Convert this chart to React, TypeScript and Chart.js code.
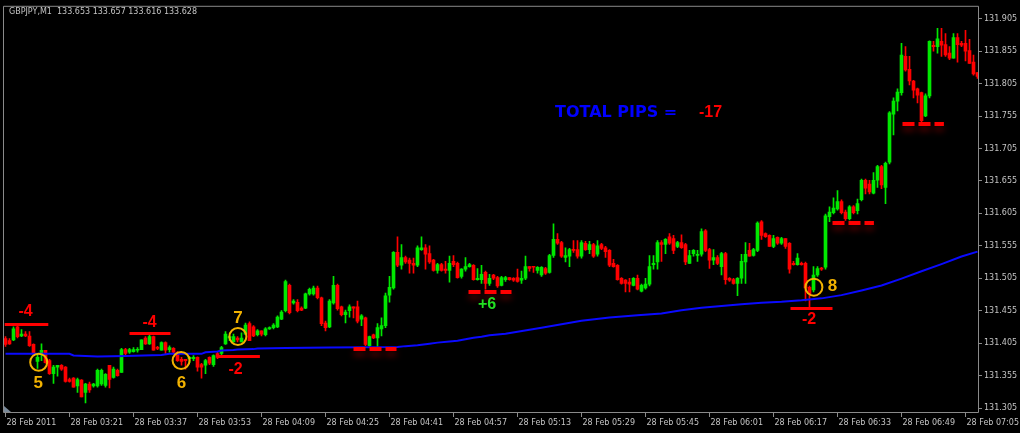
import React, { useEffect, useRef } from 'react';
import { Chart, registerables } from 'chart.js';

Chart.register(...registerables);

// ---------- data ----------
const symbolCaption = 'GBPJPY,M1  133.653 133.657 133.616 133.628';

const timeLabels = [
  '28 Feb 2011', '28 Feb 03:21', '28 Feb 03:37', '28 Feb 03:53', '28 Feb 04:09', '28 Feb 04:25',
  '28 Feb 04:41', '28 Feb 04:57', '28 Feb 05:13', '28 Feb 05:29', '28 Feb 05:45', '28 Feb 06:01',
  '28 Feb 06:17', '28 Feb 06:33', '28 Feb 06:49', '28 Feb 07:05',
];
const timeLabelBars = [0, 16, 32, 48, 64, 80, 96, 112, 128, 144, 160, 176, 192, 208, 224, 240];

const priceTicks = [
  131.305, 131.355, 131.405, 131.455, 131.505, 131.555, 131.605,
  131.655, 131.705, 131.755, 131.805, 131.855, 131.905,
];

const opens = [
  131.412, 131.409, 131.410, 131.430, 131.416, 131.419, 131.416, 131.403, 131.377, 131.389,
  131.394, 131.378, 131.358, 131.368, 131.371, 131.368, 131.349, 131.351, 131.339, 131.348,
  131.329, 131.342, 131.339, 131.339, 131.342, 131.340, 131.371, 131.352, 131.363, 131.360,
  131.395, 131.391, 131.392, 131.394, 131.395, 131.413, 131.404, 131.415, 131.398, 131.394,
  131.406, 131.395, 131.397, 131.391, 131.380, 131.380, 131.381, 131.381, 131.383, 131.372,
  131.371, 131.383, 131.372, 131.389, 131.389, 131.404, 131.413, 131.407, 131.413, 131.407,
  131.419, 131.435, 131.430, 131.418, 131.424, 131.418, 131.427, 131.429, 131.430, 131.442,
  131.455, 131.494, 131.467, 131.468, 131.459, 131.459, 131.481, 131.481, 131.490, 131.475,
  131.436, 131.430, 131.467, 131.494, 131.461, 131.449, 131.455, 131.461, 131.461, 131.442,
  131.444, 131.401, 131.418, 131.413, 131.427, 131.432, 131.479, 131.490, 131.545, 131.525,
  131.537, 131.533, 131.528, 131.525, 131.549, 131.552, 131.543, 131.533, 131.517, 131.526,
  131.519, 131.517, 131.531, 131.528, 131.508, 131.519, 131.523, 131.525, 131.503, 131.503,
  131.514, 131.497, 131.510, 131.506, 131.494, 131.503, 131.506, 131.505, 131.506, 131.502,
  131.505, 131.523, 131.523, 131.517, 131.510, 131.520, 131.514, 131.540, 131.565, 131.560,
  131.537, 131.539, 131.549, 131.549, 131.539, 131.559, 131.549, 131.557, 131.542, 131.557,
  131.552, 131.548, 131.528, 131.525, 131.505, 131.502, 131.499, 131.494, 131.505, 131.485,
  131.490, 131.496, 131.526, 131.530, 131.560, 131.557, 131.569, 131.566, 131.554, 131.560,
  131.557, 131.528, 131.543, 131.540, 131.542, 131.578, 131.549, 131.533, 131.537, 131.523,
  131.543, 131.505, 131.503, 131.497, 131.505, 131.530, 131.548, 131.540, 131.548, 131.592,
  131.574, 131.571, 131.554, 131.568, 131.559, 131.566, 131.559, 131.528, 131.526, 131.528,
  131.528, 131.491, 131.487, 131.510, 131.520, 131.522, 131.600, 131.606, 131.612, 131.623,
  131.607, 131.597, 131.615, 131.609, 131.626, 131.656, 131.650, 131.636, 131.656, 131.677,
  131.645, 131.684, 131.758, 131.778, 131.791, 131.847, 131.827, 131.809, 131.797, 131.791,
  131.755, 131.786, 131.864, 131.862, 131.870, 131.865, 131.852, 131.844, 131.876, 131.867,
  131.867, 131.856, 131.838, 131.822,
];
const highs = [
  131.415, 131.412, 131.430, 131.435, 131.426, 131.423, 131.423, 131.404, 131.387, 131.404,
  131.394, 131.380, 131.371, 131.371, 131.372, 131.369, 131.351, 131.352, 131.351, 131.349,
  131.343, 131.345, 131.343, 131.365, 131.365, 131.358, 131.371, 131.368, 131.365, 131.397,
  131.397, 131.397, 131.398, 131.398, 131.410, 131.415, 131.419, 131.416, 131.400, 131.407,
  131.407, 131.401, 131.398, 131.392, 131.383, 131.380, 131.384, 131.386, 131.384, 131.374,
  131.380, 131.384, 131.387, 131.391, 131.400, 131.423, 131.416, 131.419, 131.415, 131.421,
  131.436, 131.438, 131.432, 131.426, 131.424, 131.429, 131.430, 131.435, 131.447, 131.455,
  131.502, 131.496, 131.472, 131.472, 131.461, 131.482, 131.490, 131.493, 131.493, 131.476,
  131.439, 131.472, 131.508, 131.496, 131.462, 131.456, 131.464, 131.461, 131.470, 131.449,
  131.445, 131.416, 131.419, 131.435, 131.444, 131.482, 131.508, 131.546, 131.569, 131.557,
  131.539, 131.536, 131.536, 131.555, 131.569, 131.557, 131.555, 131.534, 131.528, 131.528,
  131.531, 131.539, 131.540, 131.530, 131.520, 131.537, 131.528, 131.526, 131.520, 131.525,
  131.516, 131.511, 131.511, 131.508, 131.508, 131.508, 131.506, 131.506, 131.519, 131.516,
  131.539, 131.523, 131.523, 131.523, 131.523, 131.522, 131.542, 131.589, 131.574, 131.562,
  131.552, 131.551, 131.563, 131.563, 131.563, 131.562, 131.562, 131.559, 131.563, 131.559,
  131.554, 131.549, 131.534, 131.526, 131.506, 131.503, 131.505, 131.506, 131.510, 131.496,
  131.505, 131.540, 131.540, 131.563, 131.563, 131.566, 131.574, 131.571, 131.562, 131.572,
  131.559, 131.548, 131.549, 131.548, 131.581, 131.580, 131.551, 131.549, 131.540, 131.545,
  131.545, 131.506, 131.505, 131.506, 131.542, 131.560, 131.559, 131.551, 131.592, 131.594,
  131.575, 131.572, 131.571, 131.569, 131.568, 131.566, 131.560, 131.531, 131.543, 131.530,
  131.530, 131.493, 131.523, 131.523, 131.522, 131.604, 131.615, 131.629, 131.640, 131.626,
  131.610, 131.617, 131.617, 131.627, 131.658, 131.658, 131.656, 131.668, 131.679, 131.679,
  131.684, 131.762, 131.783, 131.797, 131.867, 131.862, 131.847, 131.810, 131.798, 131.792,
  131.789, 131.871, 131.870, 131.890, 131.890, 131.882, 131.862, 131.882, 131.882, 131.870,
  131.887, 131.873, 131.849, 131.822,
];
const lows = [
  131.400, 131.403, 131.409, 131.413, 131.415, 131.415, 131.400, 131.387, 131.366, 131.378,
  131.374, 131.357, 131.343, 131.354, 131.363, 131.345, 131.345, 131.337, 131.329, 131.322,
  131.313, 131.329, 131.337, 131.337, 131.340, 131.337, 131.336, 131.351, 131.354, 131.360,
  131.387, 131.389, 131.391, 131.391, 131.395, 131.403, 131.403, 131.394, 131.395, 131.394,
  131.389, 131.391, 131.389, 131.377, 131.371, 131.365, 131.375, 131.378, 131.362, 131.351,
  131.358, 131.372, 131.369, 131.381, 131.387, 131.403, 131.409, 131.407, 131.407, 131.407,
  131.418, 131.409, 131.415, 131.416, 131.416, 131.416, 131.426, 131.427, 131.429, 131.441,
  131.453, 131.450, 131.465, 131.453, 131.455, 131.458, 131.479, 131.479, 131.473, 131.432,
  131.424, 131.429, 131.465, 131.456, 131.447, 131.436, 131.445, 131.444, 131.436, 131.432,
  131.401, 131.400, 131.412, 131.398, 131.416, 131.429, 131.468, 131.488, 131.523, 131.519,
  131.528, 131.513, 131.513, 131.523, 131.548, 131.519, 131.528, 131.516, 131.513, 131.516,
  131.513, 131.499, 131.523, 131.505, 131.505, 131.516, 131.522, 131.502, 131.502, 131.497,
  131.488, 131.494, 131.503, 131.491, 131.493, 131.500, 131.502, 131.500, 131.499, 131.497,
  131.503, 131.516, 131.514, 131.513, 131.508, 131.511, 131.513, 131.537, 131.557, 131.537,
  131.530, 131.523, 131.545, 131.536, 131.536, 131.548, 131.543, 131.537, 131.539, 131.549,
  131.537, 131.523, 131.522, 131.502, 131.496, 131.484, 131.484, 131.493, 131.487, 131.484,
  131.488, 131.493, 131.519, 131.519, 131.531, 131.543, 131.557, 131.543, 131.552, 131.551,
  131.526, 131.528, 131.539, 131.531, 131.539, 131.546, 131.520, 131.526, 131.526, 131.510,
  131.496, 131.500, 131.496, 131.478, 131.497, 131.497, 131.539, 131.539, 131.546, 131.565,
  131.568, 131.554, 131.552, 131.557, 131.557, 131.551, 131.513, 131.525, 131.525, 131.525,
  131.470, 131.461, 131.484, 131.508, 131.517, 131.519, 131.592, 131.604, 131.610, 131.604,
  131.594, 131.595, 131.604, 131.604, 131.624, 131.635, 131.635, 131.635, 131.645, 131.643,
  131.620, 131.681, 131.726, 131.763, 131.787, 131.824, 131.803, 131.783, 131.775, 131.746,
  131.754, 131.783, 131.855, 131.852, 131.847, 131.847, 131.842, 131.844, 131.838, 131.862,
  131.840, 131.836, 131.818, 131.813,
];
const closes = [
  131.403, 131.404, 131.427, 131.415, 131.419, 131.416, 131.401, 131.389, 131.383, 131.394,
  131.375, 131.358, 131.368, 131.371, 131.365, 131.346, 131.346, 131.337, 131.349, 131.322,
  131.342, 131.333, 131.342, 131.363, 131.363, 131.357, 131.349, 131.365, 131.355, 131.395,
  131.389, 131.395, 131.395, 131.395, 131.410, 131.404, 131.415, 131.394, 131.397, 131.406,
  131.394, 131.398, 131.391, 131.378, 131.377, 131.378, 131.383, 131.383, 131.368, 131.368,
  131.378, 131.374, 131.386, 131.383, 131.398, 131.419, 131.415, 131.415, 131.410, 131.413,
  131.433, 131.409, 131.416, 131.424, 131.419, 131.427, 131.429, 131.433, 131.445, 131.453,
  131.500, 131.452, 131.470, 131.455, 131.456, 131.481, 131.488, 131.490, 131.475, 131.435,
  131.429, 131.470, 131.494, 131.458, 131.449, 131.453, 131.461, 131.459, 131.439, 131.447,
  131.403, 131.415, 131.413, 131.429, 131.432, 131.478, 131.491, 131.545, 131.525, 131.537,
  131.530, 131.528, 131.525, 131.552, 131.552, 131.542, 131.530, 131.517, 131.526, 131.517,
  131.517, 131.528, 131.526, 131.506, 131.519, 131.523, 131.526, 131.503, 131.505, 131.511,
  131.497, 131.505, 131.505, 131.493, 131.506, 131.506, 131.503, 131.502, 131.500, 131.505,
  131.523, 131.520, 131.522, 131.522, 131.522, 131.513, 131.540, 131.565, 131.559, 131.539,
  131.540, 131.549, 131.548, 131.539, 131.560, 131.549, 131.557, 131.539, 131.555, 131.551,
  131.546, 131.525, 131.523, 131.503, 131.497, 131.497, 131.496, 131.505, 131.488, 131.494,
  131.496, 131.523, 131.528, 131.560, 131.557, 131.565, 131.559, 131.548, 131.560, 131.552,
  131.530, 131.540, 131.548, 131.542, 131.577, 131.548, 131.533, 131.537, 131.528, 131.543,
  131.503, 131.502, 131.497, 131.505, 131.531, 131.542, 131.539, 131.549, 131.590, 131.571,
  131.569, 131.554, 131.566, 131.559, 131.566, 131.554, 131.519, 131.526, 131.536, 131.526,
  131.490, 131.481, 131.510, 131.520, 131.519, 131.601, 131.607, 131.613, 131.623, 131.606,
  131.597, 131.615, 131.606, 131.620, 131.656, 131.644, 131.638, 131.656, 131.677, 131.649,
  131.682, 131.760, 131.778, 131.792, 131.849, 131.826, 131.809, 131.795, 131.787, 131.748,
  131.786, 131.870, 131.862, 131.874, 131.864, 131.849, 131.844, 131.876, 131.865, 131.864,
  131.855, 131.836, 131.820, 131.816,
];

// moving average, read at a set of bars
const maBars = [
  0, 16, 17, 23, 30, 39, 41, 49, 50, 53, 54, 57, 58, 62, 63, 70, 81, 98, 100, 103,
  106, 108, 111, 113, 115, 117, 119, 121, 125, 134, 144, 151, 158, 164, 169, 174, 179, 184,
  189, 194, 199, 204, 209, 214, 219, 224, 229, 234, 239, 243,
];
const maValues = [
  131.3885, 131.3885, 131.3859, 131.3844, 131.3852, 131.3867, 131.3885, 131.3885, 131.391, 131.392,
  131.3935, 131.3943, 131.3951, 131.3958, 131.3966, 131.3974, 131.3981, 131.3989, 131.4004, 131.4019,
  131.4042, 131.4058, 131.4077, 131.4088, 131.4111, 131.4134, 131.4149, 131.4172, 131.4195, 131.4287,
  131.4394, 131.4447, 131.4481, 131.4506, 131.4557, 131.4597, 131.4623, 131.4648, 131.4673, 131.4688,
  131.471, 131.474, 131.479, 131.4862, 131.4939, 131.5045, 131.5157, 131.5268, 131.5386, 131.5460,
];

// trade annotations (bar index / price)
const levelLines = [
  { from: -0.2, to: 10.7, price: 131.4343, dashed: false },
  { from: 31, to: 41.25, price: 131.4206, dashed: false },
  { from: 53, to: 63.6, price: 131.3855, dashed: false },
  { from: 87, to: 97.75, price: 131.3961, dashed: true },
  { from: 115.75, to: 126.5, price: 131.4832, dashed: true },
  { from: 196.25, to: 206.75, price: 131.4587, dashed: false },
  { from: 206.75, to: 217.1, price: 131.590, dashed: true },
  { from: 224.25, to: 234.6, price: 131.7427, dashed: true },
];
const resultLabels = [
  { bar: 5, price: 131.4531, text: '-4', kind: 'loss' },
  { bar: 36, price: 131.4363, text: '-4', kind: 'loss' },
  { bar: 57.5, price: 131.3646, text: '-2', kind: 'loss' },
  { bar: 120.4, price: 131.4645, text: '+6', kind: 'win' },
  { bar: 200.9, price: 131.4409, text: '-2', kind: 'loss' },
];
const entryCircles = [
  { bar: 8.3, price: 131.3757, text: '5', tBar: 8.2, tPrice: 131.3424 },
  { bar: 43.9, price: 131.3783, text: '6', tBar: 44, tPrice: 131.3432 },
  { bar: 58.1, price: 131.4152, text: '7', tBar: 58.1, tPrice: 131.4439 },
  { bar: 202.1, price: 131.4913, text: '8', tBar: 206.75, tPrice: 131.4920 },
];
const totalCaption = 'TOTAL PIPS =';
const totalValue = '-17';

// ---------- styles ----------
const GREEN = '#00e800';
const RED = '#ff0000';
const BLUE = '#0a0aff';
const ORANGE = '#f2b200';
const WIN = '#22e022';
const AXIS_TEXT = '#c4c4c4';
const FRAME = '#8a8a8a';

export default function App() {
  const ref = useRef<HTMLCanvasElement>(null);

  useEffect(() => {
    document.body.style.margin = '0';
    document.body.style.background = '#000';
    const canvas = ref.current;
    if (!canvas) return;

    const idx = opens.map((_, i) => i);
    const colors = idx.map((i) => (closes[i] >= opens[i] ? GREEN : RED));

    const overlay = {
      id: 'overlay',
      afterDatasetsDraw(chart: any) {
        const { ctx, scales } = chart;
        const xs = scales.x;
        const ys = scales.y;
        ctx.save();
        // level lines
        levelLines.forEach((l) => {
          const py = Math.round(ys.getPixelForValue(l.price));
          ctx.beginPath();
          ctx.strokeStyle = RED;
          if (l.dashed) {
            ctx.lineWidth = 4;
            ctx.setLineDash([12, 4]);
            ctx.shadowColor = 'rgba(255,0,0,0.35)';
            ctx.shadowBlur = 6;
            ctx.shadowOffsetY = 5;
            ctx.moveTo(xs.getPixelForValue(l.from), py);
            ctx.lineTo(xs.getPixelForValue(l.to), py);
          } else {
            ctx.lineWidth = 3;
            ctx.setLineDash([]);
            ctx.shadowColor = 'transparent';
            ctx.shadowBlur = 0;
            ctx.shadowOffsetY = 0;
            ctx.moveTo(xs.getPixelForValue(l.from), py + 0.5);
            ctx.lineTo(xs.getPixelForValue(l.to), py + 0.5);
          }
          ctx.stroke();
        });
        ctx.setLineDash([]);
        ctx.shadowColor = 'transparent';
        ctx.shadowBlur = 0;
        ctx.shadowOffsetY = 0;
        // circles
        ctx.strokeStyle = ORANGE;
        ctx.lineWidth = 2;
        entryCircles.forEach((c) => {
          ctx.beginPath();
          ctx.arc(xs.getPixelForValue(c.bar), ys.getPixelForValue(c.price), 8.5, 0, Math.PI * 2);
          ctx.stroke();
        });
        // texts
        ctx.font = 'bold 16px "Liberation Sans", Arial, sans-serif';
        ctx.textAlign = 'center';
        ctx.textBaseline = 'middle';
        resultLabels.forEach((t) => {
          ctx.fillStyle = t.kind === 'win' ? WIN : RED;
          ctx.fillText(t.text, xs.getPixelForValue(t.bar), ys.getPixelForValue(t.price));
        });
        ctx.fillStyle = ORANGE;
        ctx.font = 'bold 17px "Liberation Sans", Arial, sans-serif';
        entryCircles.forEach((c) => {
          ctx.fillText(c.text, xs.getPixelForValue(c.tBar), ys.getPixelForValue(c.tPrice));
        });
        ctx.restore();
      },
      afterDraw(chart: any) {
        const { ctx, chartArea } = chart;
        ctx.save();
        // frame
        ctx.strokeStyle = FRAME;
        ctx.lineWidth = 1;
        ctx.beginPath();
        ctx.moveTo(chartArea.left - 0.5, chartArea.top - 0.5);
        ctx.lineTo(chartArea.right + 0.5, chartArea.top - 0.5);
        ctx.lineTo(chartArea.right + 0.5, chartArea.bottom + 0.5);
        ctx.lineTo(chartArea.left - 0.5, chartArea.bottom + 0.5);
        ctx.closePath();
        ctx.stroke();
        // corner marker
        ctx.fillStyle = '#7a8a9a';
        ctx.beginPath();
        ctx.moveTo(chartArea.left, chartArea.bottom - 6);
        ctx.lineTo(chartArea.left, chartArea.bottom);
        ctx.lineTo(chartArea.left + 7, chartArea.bottom);
        ctx.closePath();
        ctx.fill();
        // caption
        ctx.fillStyle = AXIS_TEXT;
        ctx.font = '8px "DejaVu Sans", sans-serif';
        ctx.textAlign = 'left';
        ctx.textBaseline = 'middle';
        ctx.fillText(symbolCaption, chartArea.left + 5, 12);
        // total pips
        ctx.textBaseline = 'alphabetic';
        ctx.font = 'bold 16px "DejaVu Sans", sans-serif';
        ctx.fillStyle = '#0000ff';
        ctx.fillText(totalCaption, 555, 117);
        ctx.font = 'bold 16px "Liberation Sans", Arial, sans-serif';
        ctx.fillStyle = RED;
        ctx.fillText(totalValue, 699, 117);
        ctx.restore();
      },
    };

    const chart = new Chart(canvas, {
      type: 'bar',
      data: {
        datasets: [
          {
            type: 'line',
            data: maBars.map((b, k) => ({ x: b, y: maValues[k] })),
            borderColor: BLUE,
            borderWidth: 2,
            pointRadius: 0,
            tension: 0,
            order: 0,
          } as any,
          {
            type: 'bar',
            data: idx.map((i) => ({ x: i, y: [lows[i], highs[i]] })),
            backgroundColor: colors,
            borderWidth: 0,
            barThickness: 1,
            grouped: false,
            order: 2,
          } as any,
          {
            type: 'bar',
            data: idx.map((i) => ({ x: i, y: [opens[i], closes[i]] })),
            backgroundColor: colors,
            borderWidth: 0,
            barThickness: 3,
            minBarLength: 1,
            grouped: false,
            order: 1,
          } as any,
        ],
      },
      options: {
        responsive: false,
        maintainAspectRatio: false,
        animation: false,
        events: [],
        layout: { padding: { left: 4, top: 3, right: 0, bottom: 0 } },
        plugins: { legend: { display: false }, tooltip: { enabled: false } },
        scales: {
          x: {
            type: 'linear',
            min: -0.375,
            max: 243.125,
            offset: false,
            afterBuildTicks: (s: any) => {
              s.ticks = timeLabelBars.map((v) => ({ value: v }));
            },
            afterFit: (s: any) => {
              s.height = 21;
            },
            ticks: {
              autoSkip: false,
              maxRotation: 0,
              minRotation: 0,
              align: 'start',
              labelOffset: 1,
              padding: 1,
              color: AXIS_TEXT,
              font: { family: '"DejaVu Sans", sans-serif', size: 8 },
              callback: (v: any) => {
                const k = timeLabelBars.indexOf(Number(v));
                return k >= 0 ? timeLabels[k] : '';
              },
            },
            grid: { display: true, drawOnChartArea: false, drawTicks: true, tickLength: 5, color: FRAME, offset: false },
            border: { display: false },
          },
          y: {
            type: 'linear',
            position: 'right',
            min: 131.2989,
            max: 131.9233,
            afterBuildTicks: (s: any) => {
              s.ticks = priceTicks.map((v) => ({ value: v }));
            },
            afterFit: (s: any) => {
              s.width = 42;
            },
            ticks: {
              padding: 2,
              color: AXIS_TEXT,
              font: { family: '"DejaVu Sans", sans-serif', size: 8 },
              callback: (v: any) => Number(v).toFixed(3),
            },
            grid: { display: true, drawOnChartArea: false, drawTicks: true, tickLength: 4, color: FRAME },
            border: { display: false },
          },
        },
      } as any,
      plugins: [overlay],
    });

    return () => chart.destroy();
  }, []);

  return (
    <div style={{ width: 1020, height: 433, background: '#000' }}>
      <canvas ref={ref} width={1020} height={433} style={{ display: 'block', width: 1020, height: 433 }} />
    </div>
  );
}
